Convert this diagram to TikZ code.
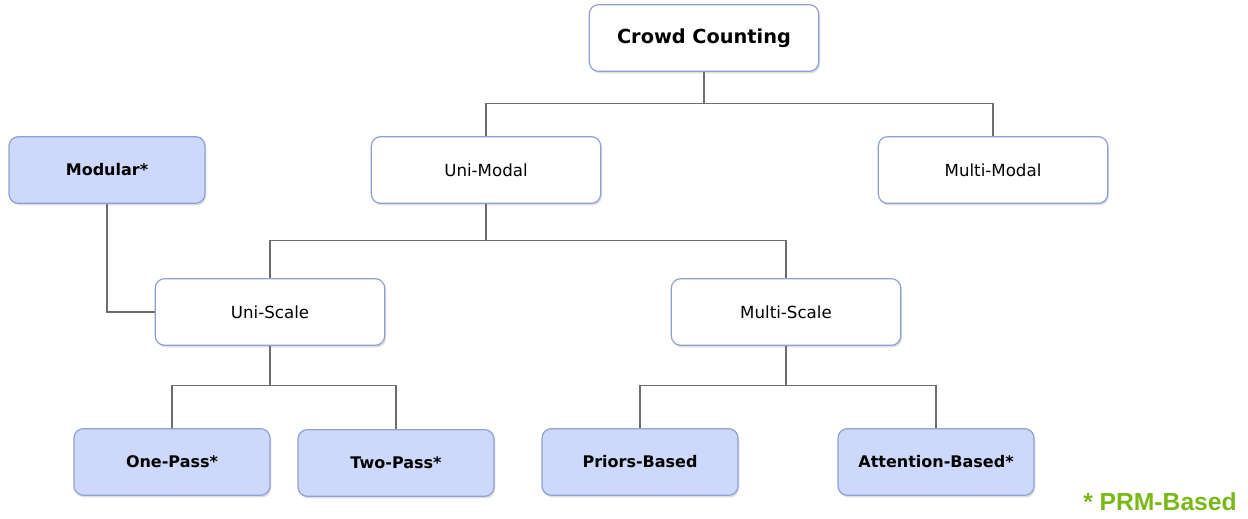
\documentclass[tikz,border=0pt]{standalone}
\usepackage{fontspec}
\setmainfont{DejaVu Sans}
\newfontfamily\legendfont{Liberation Sans}
\usetikzlibrary{shadows}

\definecolor{boxline}{RGB}{143,160,214}
\definecolor{boxfill}{RGB}{205,216,250}
\definecolor{linkgray}{RGB}{110,110,110}
\definecolor{prmgreen}{RGB}{122,184,24}

\tikzset{every picture/.style={line width=0.5pt}}
\tikzset{
  catbox/.style={draw=boxline, line width=0.9pt, rounded corners=7pt, fill=white,
    minimum width=172pt, minimum height=50pt, inner sep=0pt, font=\fontsize{12.5}{14}\selectfont,
    drop shadow={opacity=0.25, shadow xshift=1pt, shadow yshift=-1.5pt}},
  prmbox/.style={catbox, fill=boxfill, minimum width=147pt, font=\bfseries\fontsize{12}{14}\selectfont},
  link/.style={draw=linkgray, line width=0.8pt}
}

\begin{document}
\begin{tikzpicture}[x=0.75pt,y=0.75pt,yscale=-1,xscale=1]
\useasboundingbox (0,0) rectangle (1248,518);

% Boxes
\node [catbox, font=\bfseries\fontsize{14.5}{16}\selectfont] (crowd) at (704,38) {Crowd Counting};
\node [catbox] (unimodal) at (486,170) {Uni-Modal};
\node [catbox] (multimodal) at (993,170) {Multi-Modal};
\node [prmbox] (modular) at (107,170) {Modular*};
\node [catbox] (uniscale) at (270,312) {Uni-Scale};
\node [catbox] (multiscale) at (786,312) {Multi-Scale};
\node [prmbox] (onepass) at (172,462) {One-Pass*};
\node [prmbox] (twopass) at (396,463) {Two-Pass*};
\node [prmbox] (priors) at (640,462) {Priors-Based};
\node [prmbox] (attention) at (936,462) {Attention-Based*};

% Links
\draw [link] (crowd.south) -- ++(0,32) -| (unimodal.north);
\draw [link] (crowd.south) -- ++(0,32) -| (multimodal.north);
\draw [link] (unimodal.south) -- ++(0,37) -| (uniscale.north);
\draw [link] (unimodal.south) -- ++(0,37) -| (multiscale.north);
\draw [link] (modular.south) |- (uniscale.west);
\draw [link] (uniscale.south) -- ++(0,40) -| (onepass.north);
\draw [link] (uniscale.south) -- ++(0,40) -| (twopass.north);
\draw [link] (multiscale.south) -- ++(0,40) -| (priors.north);
\draw [link] (multiscale.south) -- ++(0,40) -| (attention.north);

% Legend
\node [text=prmgreen, font=\legendfont\bfseries\fontsize{18.5}{20}\selectfont] (legend) at (1160,502) {* PRM-Based};
\end{tikzpicture}
\end{document}
